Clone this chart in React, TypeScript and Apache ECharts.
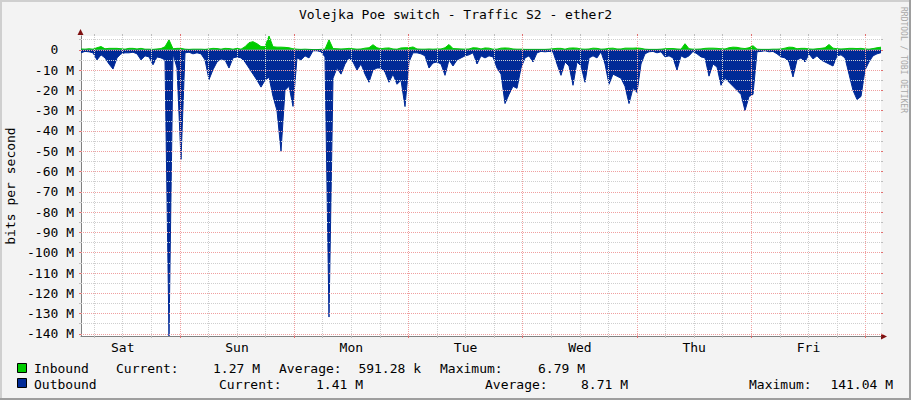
import React, { useEffect, useRef } from "react";
import * as echarts from "echarts";

// ---------- data ----------
const TITLE = "Volejka Poe switch - Traffic S2 - ether2";
const Y_TITLE = "bits per second";
const WATERMARK = "RRDTOOL / TOBI OETIKER";
const DAYS = ["Sat", "Sun", "Mon", "Tue", "Wed", "Thu", "Fri"];
const START_HOUR = 3.234; // hours after Sat 00:00 of the first sample
const STEP_HOUR = 0.84; // hours between samples
const SPAN_HOURS = 168;
const Y_MAX = 6.79;
const Y_MIN = -141.04;
const Y_TICKS = [0, -10, -20, -30, -40, -50, -60, -70, -80, -90, -100, -110, -120, -130, -140];
const Y_MINOR_TICKS = [5, -5, -15, -25, -35, -45, -55, -65, -75, -85, -95, -105, -115, -125, -135];
const X_MAJOR_HOURS = [24, 48, 72, 96, 120, 144, 168];
const X_MINOR_HOURS = [6, 12, 18, 30, 36, 42, 54, 60, 66, 78, 84, 90, 102, 108, 114, 126, 132, 138, 150, 156, 162];

// Inbound traffic, Mbit/s
const INBOUND = [
  0.4, 0.3, 0.5, 0.3, 1.0, 1.6, 0.5, 0.7, 0.7, 0.7,
  0.5, 0.3, 0.7, 0.7, 0.4, 0.7, 0.3, 0.3, 0.2, 0.4,
  0.6, 1.5, 4.9, 0.5, 0.7, 0.7, 0.3, 0.2, 0.3, 0.3,
  0.3, 0.2, 0.4, 0.7, 0.6, 0.3, 0.7, 0.6, 0.3, 0.7,
  0.3, 1.5, 3.5, 4.0, 3.0, 1.6, 1.5, 6.79, 1.5, 1.3,
  1.3, 1.2, 1.0, 0.5, 0.3, 0.2, 0.3, 0.2, 0.1, 0.1,
  0.2, 0.3, 4.9, 0.6, 0.5, 0.4, 0.5, 0.7, 0.5, 0.3,
  0.4, 0.8, 1.0, 2.5, 1.0, 0.5, 0.8, 0.9, 0.4, 0.3,
  0.9, 1.0, 1.0, 1.4, 0.4, 0.3, 0.3, 0.4, 0.3, 0.4,
  0.4, 1.0, 2.6, 0.6, 0.5, 0.4, 0.3, 0.4, 1.0, 0.9,
  0.4, 0.9, 0.8, 0.3, 0.3, 0.8, 0.9, 0.8, 0.4, 0.3,
  0.3, 0.2, 0.2, 0.2, 0.2, 0.2, 0.2, 0.3, 0.5, 0.7,
  0.7, 0.3, 0.8, 0.9, 0.8, 0.4, 0.3, 0.4, 0.8, 0.7,
  0.3, 0.4, 0.7, 0.8, 0.4, 0.4, 0.8, 0.8, 0.8, 0.9,
  0.7, 0.3, 0.2, 0.2, 0.2, 0.3, 0.5, 0.6, 0.6, 0.4,
  0.3, 3.0, 0.5, 0.3, 0.3, 0.4, 0.7, 0.8, 0.8, 0.7,
  0.5, 0.4, 1.0, 1.3, 1.2, 0.8, 0.6, 1.0, 2.0, 0.3,
  0.2, 0.2, 0.2, 0.3, 0.3, 0.4, 0.8, 1.3, 1.2, 0.5,
  0.7, 0.7, 0.4, 0.3, 0.5, 0.7, 1.0, 2.6, 0.8, 0.5,
  0.4, 0.5, 0.7, 0.7, 0.6, 0.7, 0.4, 0.3, 0.6, 1.0,
  1.27,
];

// Outbound traffic, Mbit/s (drawn below zero)
const OUTBOUND = [
  1.5, 0.8, 1.0, 1.5, 5.0, 2.5, 4, 7, 9.5, 4,
  2, 1.5, 1.5, 1.2, 2, 5, 3, 3.5, 7.4, 3.5,
  4, 5, 141.04, 2, 9, 54, 1.5, 1.2, 2, 1.5,
  2, 5, 14.7, 9.8, 6, 4.5, 5, 9, 4, 3.5,
  4, 6, 9, 12, 15, 18.4, 15, 13.5, 23, 30,
  50, 20, 18, 27.9, 4, 5, 3, 4, 0.5, 0.5,
  1, 3.5, 131.7, 14, 9, 12, 7, 4, 6, 10,
  7, 12, 16, 10, 9, 9, 11, 16, 12, 17,
  15, 28, 6, 1.5, 1.5, 2, 3, 9, 6.5, 6,
  7, 12.6, 5, 8, 5, 4, 3, 2.5, 1.5, 7,
  3, 4, 3, 3.5, 9, 12, 26.5, 22, 18, 19,
  9, 4, 3, 6, 1.5, 0.8, 1, 0.8, 1, 7,
  12.6, 6, 8, 17.5, 6, 8, 16, 4, 3, 4,
  1, 7, 17, 12, 13, 14, 18, 26.5, 19, 21,
  7, 2, 1, 0.8, 1.5, 1, 3.5, 3, 4, 10,
  3, 4, 3, 0.8, 2, 3.5, 4, 13, 7, 8.5,
  17.5, 14, 16, 18, 20, 22, 30, 23, 22, 1,
  0.8, 0.5, 1, 0.8, 2, 3.5, 4, 6, 13.4, 5,
  4, 6, 2, 4.5, 3, 5, 6, 7, 8, 3,
  2.5, 4, 12, 20, 24.5, 23, 10, 6, 3, 2,
  1.41,
];

const LEGEND_NAMES = ["Inbound", "Outbound"];
const INBOUND_STATS = ["1.27 M", "591.28 k", "6.79 M"];
const OUTBOUND_STATS = ["1.41 M", "8.71 M", "141.04 M"];
const STAT_LABELS = ["Current:", "Average:", "Maximum:"];

// ---------- styling ----------
const GREEN = "#00CC00";
const BLUE = "#002A97";
const FONT = '"DejaVu Sans Mono", monospace';
const MINOR = "#CFCFCF";
const MAJOR = "#F0A0A0";
const MINOR_TICK = "#BDBDBD";
const MAJOR_TICK = "#E07070";
const AXIS = "#808080";

export default function App() {
  const ref = useRef<HTMLDivElement>(null);

  useEffect(() => {
    if (!ref.current) return;
    const chart = echarts.init(ref.current, undefined, { renderer: "svg" });

    const inData = INBOUND.map((v, i) => [START_HOUR + i * STEP_HOUR, v]);
    const outData = OUTBOUND.map((v, i) => [START_HOUR + i * STEP_HOUR, -v]);

    const gridLines: any[] = [];
    X_MINOR_HOURS.forEach((h) =>
      gridLines.push({ xAxis: h, lineStyle: { color: MINOR, type: [1, 1], width: 1 } })
    );
    X_MAJOR_HOURS.forEach((h) =>
      gridLines.push({ xAxis: h, lineStyle: { color: MAJOR, type: [1, 1], width: 1 } })
    );
    Y_MINOR_TICKS.forEach((v) =>
      gridLines.push({ yAxis: v, lineStyle: { color: MINOR, type: [1, 1], width: 1 } })
    );
    Y_TICKS.forEach((v) =>
      gridLines.push({ yAxis: v, lineStyle: { color: MAJOR, type: [1, 1], width: 1 } })
    );

    const t = (text: string, x: number, y: number, extra: any = {}) => ({
      type: "text",
      x,
      y,
      silent: true,
      style: {
        text,
        fill: "#000",
        font: `13px ${FONT}`,
        textAlign: "left",
        textVerticalAlign: "middle",
        ...extra,
      },
    });

    const tickAxisX = (position: string, values: number[], color: string) => ({
      type: "value",
      position,
      min: START_HOUR,
      max: START_HOUR + SPAN_HOURS,
      splitLine: { show: false },
      axisLine: { show: false, onZero: false },
      axisLabel: { show: false },
      axisTick: { show: true, customValues: values, length: 2, lineStyle: { color } },
    });
    const tickAxisY = (position: string, values: number[], color: string) => ({
      type: "value",
      position,
      min: Y_MIN,
      max: Y_MAX,
      splitLine: { show: false },
      axisLine: { show: false, onZero: false },
      axisLabel: { show: false },
      axisTick: { show: true, customValues: values, length: 2, lineStyle: { color } },
    });

    const option: any = {
      animation: false,
      backgroundColor: "#F3F3F3",
      grid: {
        left: 81,
        right: 30,
        top: 36,
        bottom: 64,
        show: true,
        backgroundColor: "#FFFFFF",
        borderWidth: 0,
      },
      xAxis: [
        {
          type: "value",
          position: "bottom",
          min: START_HOUR,
          max: START_HOUR + SPAN_HOURS,
          splitLine: { show: false },
          axisLine: { onZero: false, lineStyle: { color: AXIS, width: 1 } },
          axisTick: { show: true, customValues: X_MAJOR_HOURS, length: 2, lineStyle: { color: MAJOR_TICK } },
          axisLabel: {
            customValues: DAYS.map((_, i) => 12 + 24 * i),
            formatter: (v: number) => DAYS[Math.round((v - 12) / 24)] ?? "",
            color: "#000",
            fontFamily: FONT,
            fontSize: 13,
            margin: 5,
          },
        },
        tickAxisX("bottom", X_MINOR_HOURS, MINOR_TICK),
        tickAxisX("top", X_MAJOR_HOURS, MAJOR_TICK),
        tickAxisX("top", X_MINOR_HOURS, MINOR_TICK),
      ],
      yAxis: [
        {
          type: "value",
          position: "left",
          min: Y_MIN,
          max: Y_MAX,
          splitLine: { show: false },
          axisLine: { show: true, onZero: false, lineStyle: { color: AXIS, width: 1 } },
          axisTick: {
            show: true,
            customValues: Y_TICKS,
            length: 2,
            lineStyle: { color: MAJOR_TICK },
          },
          axisLabel: {
            customValues: Y_TICKS,
            formatter: (v: number) => (v === 0 ? "0\u00A0\u00A0" : `${v} M`),
            color: "#000",
            fontFamily: FONT,
            fontSize: 13,
            margin: 7,
          },
        },
        tickAxisY("left", Y_MINOR_TICKS, MINOR_TICK),
        tickAxisY("right", Y_TICKS, MAJOR_TICK),
        tickAxisY("right", Y_MINOR_TICKS, MINOR_TICK),
      ],
      series: [
        {
          type: "line",
          data: [[START_HOUR, 0]],
          symbol: "none",
          lineStyle: { width: 0, opacity: 0 },
          silent: true,
          z: 1,
          markLine: {
            silent: true,
            symbol: ["none", "none"],
            label: { show: false },
            animation: false,
            data: gridLines,
          },
        },
        {
          name: "Inbound",
          type: "line",
          data: inData,
          symbol: "none",
          lineStyle: { width: 1, color: GREEN },
          areaStyle: { color: GREEN, opacity: 1 },
          silent: true,
          z: 3,
        },
        {
          name: "Outbound",
          type: "line",
          data: outData,
          symbol: "none",
          lineStyle: { width: 1, color: BLUE },
          areaStyle: { color: BLUE, opacity: 1 },
          silent: true,
          z: 4,
        },
      ],
      graphic: [
        // frame shading
        { type: "rect", shape: { x: 0, y: 0, width: 911, height: 2 }, style: { fill: "#CFCFCF" }, silent: true },
        { type: "rect", shape: { x: 0, y: 0, width: 2, height: 400 }, style: { fill: "#CFCFCF" }, silent: true },
        { type: "rect", shape: { x: 909, y: 0, width: 2, height: 400 }, style: { fill: "#9E9E9E" }, silent: true },
        { type: "rect", shape: { x: 0, y: 398, width: 911, height: 2 }, style: { fill: "#9E9E9E" }, silent: true },
        // axis arrows
        {
          type: "polygon",
          shape: { points: [[77.5, 35], [83.5, 35], [80.5, 29]] },
          style: { fill: "#7F1010" },
          silent: true,
        },
        {
          type: "polygon",
          shape: { points: [[881, 333.5], [881, 339.5], [887, 336.5]] },
          style: { fill: "#7F1010" },
          silent: true,
        },
        // titles
        t(TITLE, 455.5, 14, { textAlign: "center" }),
        {
          type: "text",
          x: 10,
          y: 186,
          rotation: Math.PI / 2,
          silent: true,
          style: { text: Y_TITLE, font: `13px ${FONT}`, fill: "#000", textAlign: "center", textVerticalAlign: "middle" },
        },
        {
          type: "text",
          x: 903,
          y: 60,
          rotation: -Math.PI / 2,
          silent: true,
          style: { text: WATERMARK, font: `8px ${FONT}`, fill: "#A8A8A8", textAlign: "center", textVerticalAlign: "middle" },
        },
        // legend boxes
        { type: "rect", shape: { x: 17.5, y: 363.5, width: 9, height: 9 }, style: { fill: GREEN, stroke: "#000", lineWidth: 1 }, silent: true },
        { type: "rect", shape: { x: 17.5, y: 378.5, width: 9, height: 9 }, style: { fill: BLUE, stroke: "#000", lineWidth: 1 }, silent: true },
        // legend row 1
        t(LEGEND_NAMES[0], 34, 368),
        t(STAT_LABELS[0], 116, 368),
        t(INBOUND_STATS[0], 260, 368, { textAlign: "right" }),
        t(STAT_LABELS[1], 279, 368),
        t(INBOUND_STATS[1], 421, 368, { textAlign: "right" }),
        t(STAT_LABELS[2], 440, 368),
        t(INBOUND_STATS[2], 585, 368, { textAlign: "right" }),
        // legend row 2
        t(LEGEND_NAMES[1], 34, 384),
        t(STAT_LABELS[0], 219, 384),
        t(OUTBOUND_STATS[0], 363, 384, { textAlign: "right" }),
        t(STAT_LABELS[1], 485, 384),
        t(OUTBOUND_STATS[1], 628, 384, { textAlign: "right" }),
        t(STAT_LABELS[2], 749, 384),
        t(OUTBOUND_STATS[2], 893, 384, { textAlign: "right" }),
      ],
    };

    chart.setOption(option);
    return () => chart.dispose();
  }, []);

  return (
    <div
      ref={ref}
      style={{ position: "fixed", left: 0, top: 0, width: 911, height: 400 }}
    />
  );
}
